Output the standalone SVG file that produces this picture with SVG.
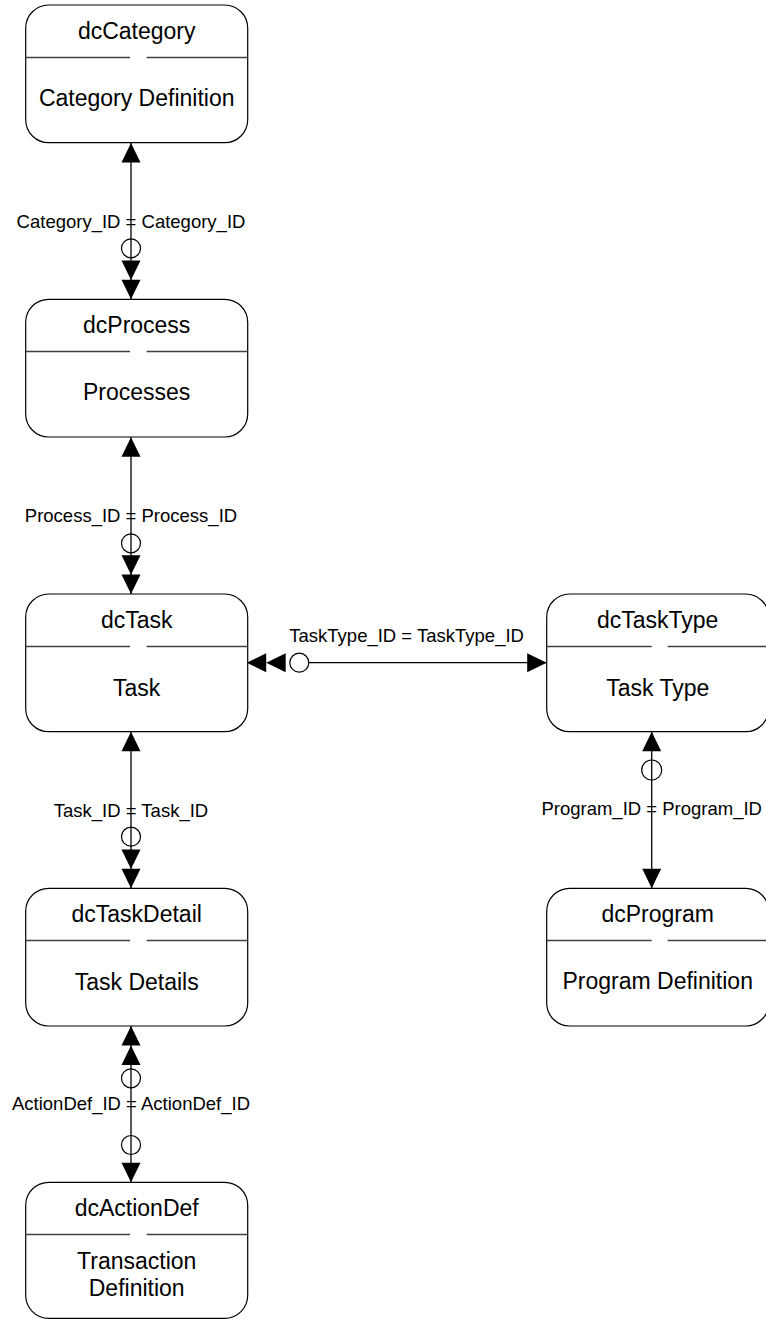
<svg xmlns="http://www.w3.org/2000/svg" xmlns:xlink="http://www.w3.org/1999/xlink" width="766" height="1319" viewBox="0 0 766 1319">
<style>
.box{fill:#fff;stroke:#000;stroke-width:1.2}
.div{stroke:#404040;stroke-width:1.3;fill:none}
.t{font-family:"Liberation Sans",Arial,sans-serif;font-size:23px;fill:#000;text-anchor:middle}
.lbl{font-family:"Liberation Sans",Arial,sans-serif;font-size:18.5px;fill:#000;text-anchor:middle}
.ln{stroke:#000;stroke-width:1.3;fill:none}
.ring{fill:none;stroke:#000;stroke-width:1.2}
</style>
<defs>
<path id="tri" d="M-9.5,-19.5 L9.5,-19.5 L0,0 Z" fill="#000"/>
</defs>
<rect width="766" height="1319" fill="#fff"/>
<g id="connectors">
  <!-- Category -> Process -->
  <line class="ln" x1="131" y1="143" x2="131" y2="299.3"/>
  <use xlink:href="#tri" transform="translate(131,143) rotate(180)"/>
  <circle class="ring" cx="131" cy="248.3" r="9.5"/>
  <use xlink:href="#tri" transform="translate(131,280)"/>
  <use xlink:href="#tri" transform="translate(131,299.3)"/>
  <text class="lbl" x="131" y="228.3">Category_ID = Category_ID</text>
  <!-- Process -> Task -->
  <line class="ln" x1="131" y1="437.3" x2="131" y2="594"/>
  <use xlink:href="#tri" transform="translate(131,437.3) rotate(180)"/>
  <circle class="ring" cx="131" cy="543.3" r="9.5"/>
  <use xlink:href="#tri" transform="translate(131,574.7)"/>
  <use xlink:href="#tri" transform="translate(131,594)"/>
  <text class="lbl" x="131" y="521.7">Process_ID = Process_ID</text>
  <!-- Task -> TaskDetail -->
  <line class="ln" x1="131" y1="731.7" x2="131" y2="888.3"/>
  <use xlink:href="#tri" transform="translate(131,731.7) rotate(180)"/>
  <circle class="ring" cx="131" cy="836.7" r="9.5"/>
  <use xlink:href="#tri" transform="translate(131,869)"/>
  <use xlink:href="#tri" transform="translate(131,888.3)"/>
  <text class="lbl" x="131" y="816.7">Task_ID = Task_ID</text>
  <!-- TaskDetail -> ActionDef -->
  <line class="ln" x1="131" y1="1026" x2="131" y2="1182.3"/>
  <use xlink:href="#tri" transform="translate(131,1026) rotate(180)"/>
  <use xlink:href="#tri" transform="translate(131,1045.5) rotate(180)"/>
  <circle class="ring" cx="131" cy="1078.3" r="9.5"/>
  <circle class="ring" cx="131" cy="1145" r="9.5"/>
  <use xlink:href="#tri" transform="translate(131,1182.3)"/>
  <text class="lbl" x="131" y="1110">ActionDef_ID = ActionDef_ID</text>
  <!-- TaskType -> Program -->
  <line class="ln" x1="651.7" y1="731.7" x2="651.7" y2="888.3"/>
  <use xlink:href="#tri" transform="translate(651.7,731.7) rotate(180)"/>
  <circle class="ring" cx="651.7" cy="770" r="10"/>
  <use xlink:href="#tri" transform="translate(651.7,888.3)"/>
  <text class="lbl" x="651.7" y="815">Program_ID = Program_ID</text>
  <!-- Task <- TaskType -->
  <line class="ln" x1="308.8" y1="662.7" x2="546.7" y2="662.7"/>
  <use xlink:href="#tri" transform="translate(246.7,662.7) rotate(90)"/>
  <use xlink:href="#tri" transform="translate(266.2,662.7) rotate(90)"/>
  <circle class="ring" cx="299.3" cy="662.7" r="9.5"/>
  <use xlink:href="#tri" transform="translate(546.7,662.7) rotate(-90)"/>
  <text class="lbl" x="289.3" y="641.7" style="text-anchor:start">TaskType_ID = TaskType_ID</text>
</g>
<g id="dcCategory">
  <rect class="box" x="25.7" y="5" width="222" height="137.7" rx="23" ry="23"/>
  <path class="div" d="M25.7,57.5 H130 M146.7,57.5 H247.7"/>
  <text class="t" x="136.7" y="38.7">dcCategory</text>
  <text class="t" x="136.7" y="106">Category Definition</text>
</g>
<g id="dcProcess">
  <rect class="box" x="25.7" y="299.3" width="222" height="137.7" rx="23" ry="23"/>
  <path class="div" d="M25.7,351.5 H130 M146.7,351.5 H247.7"/>
  <text class="t" x="136.7" y="333">dcProcess</text>
  <text class="t" x="136.7" y="400.3">Processes</text>
</g>
<g id="dcTask">
  <rect class="box" x="25.7" y="594" width="222" height="137.7" rx="23" ry="23"/>
  <path class="div" d="M25.7,646.5 H130 M146.7,646.5 H247.7"/>
  <text class="t" x="136.7" y="627.7">dcTask</text>
  <text class="t" x="136.7" y="696">Task</text>
</g>
<g id="dcTaskDetail">
  <rect class="box" x="25.7" y="888.3" width="222" height="137.7" rx="23" ry="23"/>
  <path class="div" d="M25.7,940.5 H130 M146.7,940.5 H247.7"/>
  <text class="t" x="136.7" y="922">dcTaskDetail</text>
  <text class="t" x="136.7" y="990">Task Details</text>
</g>
<g id="dcActionDef">
  <rect class="box" x="25.7" y="1182.3" width="222" height="136" rx="23" ry="23"/>
  <path class="div" d="M25.7,1234.5 H130 M146.7,1234.5 H247.7"/>
  <text class="t" x="136.7" y="1215.5">dcActionDef</text>
  <text class="t" x="136.7" y="1268.5">Transaction</text>
  <text class="t" x="136.7" y="1295.7">Definition</text>
</g>
<g id="dcTaskType">
  <rect class="box" x="546.7" y="594" width="222" height="137.7" rx="23" ry="23"/>
  <path class="div" d="M546.7,646.5 H651.7 M667.7,646.5 H768.7"/>
  <text class="t" x="657.7" y="627.7">dcTaskType</text>
  <text class="t" x="657.7" y="696">Task Type</text>
</g>
<g id="dcProgram">
  <rect class="box" x="546.7" y="888.3" width="222" height="137.7" rx="23" ry="23"/>
  <path class="div" d="M546.7,940.5 H651.7 M667.7,940.5 H768.7"/>
  <text class="t" x="657.7" y="922">dcProgram</text>
  <text class="t" x="657.7" y="988.5">Program Definition</text>
</g>
</svg>
